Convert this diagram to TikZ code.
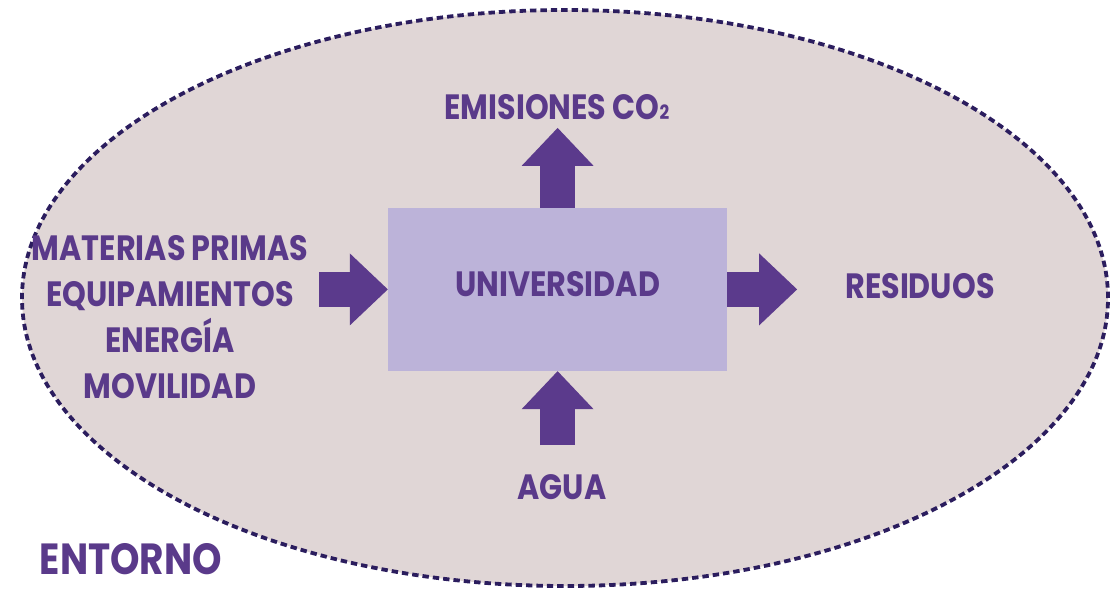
\documentclass[tikz,border=0pt]{standalone}
\usepackage{fontspec}
\newfontfamily\labfont{Poppins}[FakeStretch=0.86]
\usetikzlibrary{arrows.meta}

\definecolor{ink}{HTML}{5A3A8A}
\definecolor{arrowc}{HTML}{5B3A8C}
\definecolor{boxc}{HTML}{BCB3D9}
\definecolor{bgc}{HTML}{E0D6D6}
\definecolor{dashc}{HTML}{2B1D5E}

\begin{document}
\begin{tikzpicture}[lbl/.style={text=ink, font=\labfont\bfseries\fontsize{25}{32.6}\selectfont, inner sep=0.2cm, align=center},
    flow/.style={draw=arrowc, line width=0.86cm, -{Triangle[length=0.95cm, width=1.8cm, line width=0pt]}}]
      \useasboundingbox (0,0) rectangle (27.75,14.775);
      \draw[fill=bgc, draw=dashc, line width=0.095cm, dash pattern=on 0.16cm off 0.1cm]
        (14.125,7.325) ellipse [x radius=13.575, y radius=7.2];

      \node[lbl, fill=boxc, minimum width=8.475cm, minimum height=4.075cm, text depth=0.25cm] (uni) at (13.94,7.54) {UNIVERSIDAD};
      \node[lbl] (emis) at (13.925,12.1) {EMISIONES CO{\fontsize{14}{14}\selectfont 2}};
      \node[lbl] (inputs) at (4.25,6.85) {MATERIAS PRIMAS\\EQUIPAMIENTOS\\ENERG\'IA\\MOVILIDAD};
      \node[lbl] (res) at (23.0,7.625) {RESIDUOS};
      \node[lbl] (agua) at (14.05,2.6) {AGUA};
      \node[lbl, font=\labfont\bfseries\fontsize{31}{36}\selectfont, inner sep=0.1cm] (entorno) at (3.275,0.8) {ENTORNO};

      \draw[flow, shorten <=0.075cm] (inputs.east |- uni.west) -- (uni.west);
      \draw[flow] (uni.north) -- (uni.north |- emis.south);
      \draw[flow, shorten >=1cm] (uni.east) -- (uni.east -| res.west);
      \draw[flow, shorten <=0.525cm] (uni.south |- agua.north) -- (uni.south);
    \end{tikzpicture}
\end{document}
